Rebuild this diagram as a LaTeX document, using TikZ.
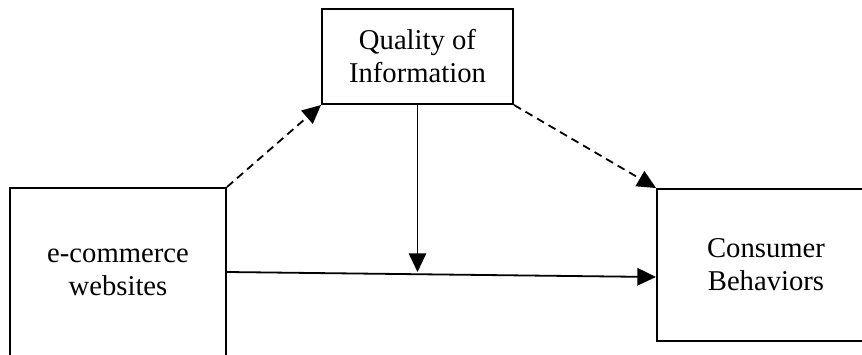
\documentclass[tikz,border=0pt]{standalone}
\usepackage{fontspec}
\setmainfont{Liberation Serif}
\usetikzlibrary{arrows.meta}
\begin{document}
\begin{tikzpicture}[
        x=0.75pt, y=-0.75pt,
        box/.style={rectangle, draw, line width=1.5pt, align=center, inner sep=2pt},
        link/.style={-{Triangle[length=14pt, width=13pt]}, line width=1.35pt},
        every node/.style={font=\fontsize{21.5}{24.75}\selectfont}
        ]
      \useasboundingbox (0,0) rectangle (862,354);
      \node[box, minimum width=143.25pt, minimum height=71.25pt] (qual) at (417.5,56.5) {Quality of\\Information};
      \node[box, minimum width=162pt, minimum height=126pt] (web) at (118,272) {e-commerce\\websites};
      \node[box, minimum width=163.5pt, minimum height=114pt] (cons) at (766,265) {Consumer\\Behaviors};
      \draw[link, dash pattern=on 6pt off 4pt] (web.north east) -- (qual.south west);
      \draw[link, dash pattern=on 6pt off 4pt] (qual.south east) -- (cons.north west);
      \draw[link] (web.east) -- ([yshift=-9pt]cons.west);
      \draw[link] (qual.south) -- (qual.south |- web.east);

    \end{tikzpicture}
\end{document}
